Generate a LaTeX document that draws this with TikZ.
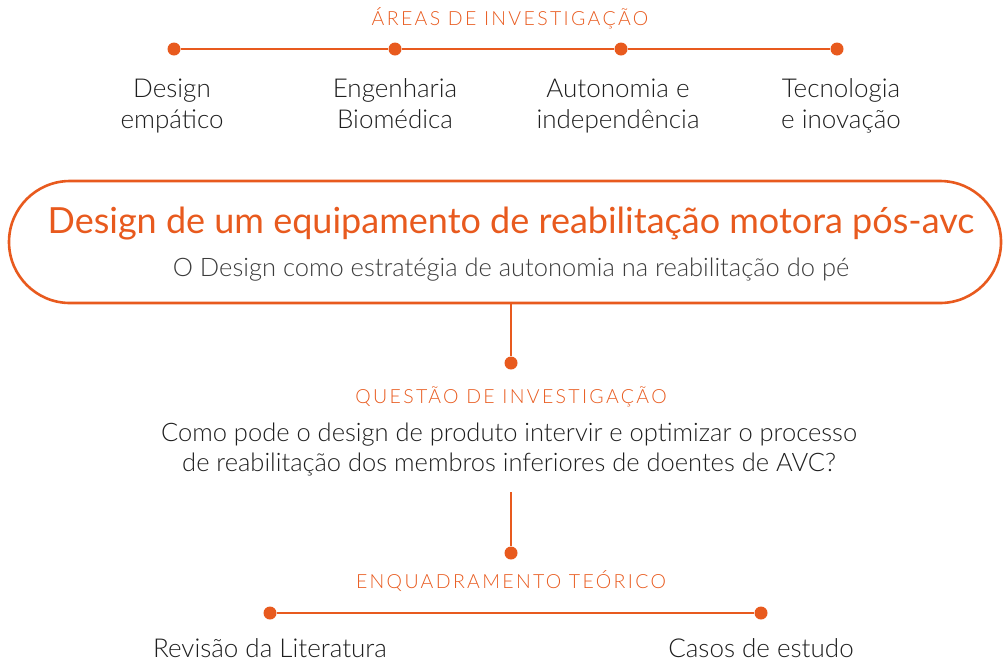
\documentclass[tikz,border=0pt]{standalone}
\usepackage{fontspec}
\setmainfont{Lato}
\newfontfamily\leve{Lato Light}
\definecolor{laranja}{HTML}{E85A1E}
\definecolor{texto}{HTML}{1E1E1E}
\definecolor{cinza}{HTML}{3C3C3C}

\begin{document}
\begin{tikzpicture}[
    x=1pt,y=-1pt,
    ponto/.style={circle, fill=laranja, inner sep=0pt, minimum size=13pt},
    linha/.style={laranja, line width=2.6pt},
    titulo/.style={text=laranja, inner sep=0pt, anchor=base,
      font=\leve\fontsize{19.5}{22}\selectfont\addfontfeatures{LetterSpace=12}},
    area/.style={text=texto, align=center, inner sep=0pt, anchor=base,
      font=\leve\fontsize{26}{31}\selectfont}
    ]
    \useasboundingbox (0, 0) rectangle (1003, 665);
    % areas de investigacao
    \node[titulo] (areas) at (510, 25) {ÁREAS DE INVESTIGAÇÃO};
    \node[ponto] (p1) at (174, 49) {};
    \node[ponto] (p2) at (395, 49) {};
    \node[ponto] (p3) at (621, 49) {};
    \node[ponto] (p4) at (837, 49) {};
    \draw[linha] (p1) -- (p2) -- (p3) -- (p4);
    \node[area] (a1) at (172, 128) {Design\\empático};
    \node[area] (a2) at (395, 128) {Engenharia\\Biomédica};
    \node[area] (a3) at (618, 128) {Autonomia e\\independência};
    \node[area] (a4) at (841, 128) {Tecnologia\\e inovação};
    % tema
    \node[draw=laranja, line width=2.6pt, rounded corners=61pt,
      minimum width=992pt, minimum height=122pt] (tema) at (505, 242) {};
    \node[text=laranja, inner sep=0pt, anchor=base,
      font=\fontsize{36}{40}\selectfont] (titulo) at (511, 233)
      {Design de um equipamento de reabilitação motora pós-avc};
    \node[text=cinza, inner sep=0pt, anchor=base,
      font=\leve\fontsize{25.5}{30}\selectfont] (sub) at (511, 276)
      {O Design como estratégia de autonomia na reabilitação do pé};
    % questao
    \node[ponto] (p5) at (511, 363) {};
    \draw[linha] (tema.south -| p5) -- (p5);
    \node[titulo] (questao) at (511, 403) {QUESTÃO DE INVESTIGAÇÃO};
    \node[area, font=\leve\fontsize{25.5}{30}\selectfont] (pergunta) at (509, 471)
      {Como pode o design de produto intervir e optimizar o processo\\de reabilitação dos membros inferiores de doentes de AVC?};
    % enquadramento
    \coordinate (c1) at (511, 492);
    \node[ponto] (p6) at (511, 553) {};
    \draw[linha] (c1) -- (p6);
    \node[titulo] (enquadramento) at (511, 588) {ENQUADRAMENTO TEÓRICO};
    \node[ponto] (p7) at (270, 613) {};
    \node[ponto] (p8) at (761, 613) {};
    \draw[linha] (p7) -- (p8);
    \node[area] (revisao) at (270, 657) {Revisão da Literatura};
    \node[area] (casos) at (761, 657) {Casos de estudo};
\end{tikzpicture}
\end{document}
